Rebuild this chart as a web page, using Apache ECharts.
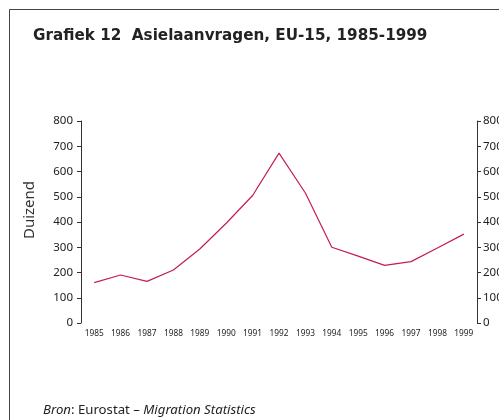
<!DOCTYPE html>
<html><head><meta charset="utf-8">
<script src="https://cdn.jsdelivr.net/npm/echarts@6/dist/echarts.min.js"></script>
<style>html,body{margin:0;padding:0;background:#fff}#c{width:499px;height:420px}</style>
</head><body><div id="c"></div>
<script>
const years = ['1985','1986','1987','1988','1989','1990','1991','1992','1993','1994','1995','1996','1997','1998','1999'];
const applications = [160, 190, 165, 210, 293, 395, 505, 673, 515, 300, 265, 228, 243, 297, 352];
const yTicks = [0, 100, 200, 300, 400, 500, 600, 700, 800];
const titleText = 'Grafiek 12  Asielaanvragen, EU-15, 1985-1999';
const unitLabel = 'Duizend';

const chart = echarts.init(document.getElementById('c'), null, {renderer:'canvas'});
const labelFont = 'Noto Sans';
const axisCommon = {
  type:'value', min: yTicks[0], max: yTicks[yTicks.length-1], interval: 100,
  splitLine:{show:false},
  axisLine:{show:true, lineStyle:{color:'#333', width:1}},
  axisTick:{show:true, length:4, lineStyle:{color:'#333'}},
  axisLabel:{fontFamily:labelFont, fontSize:11.5, color:'#222'}
};
chart.setOption({
  animation:false,
  title:{text:titleText, left:33, top:29, padding:0, textStyle:{fontFamily:'DejaVu Sans', fontWeight:'bold', fontSize:15.2, color:'#222'}},
  grid:{left:81, right:22, top:121, bottom:97, containLabel:false, outerBoundsMode:'none'},
  xAxis:{type:'category', data:years, boundaryGap:true,
    axisLine:{show:false}, axisTick:{show:false},
    axisLabel:{fontFamily:labelFont, fontSize:8.3, color:'#222', margin:7, interval:0}},
  yAxis:[
    Object.assign({}, axisCommon, {position:'left', axisLabel:Object.assign({}, axisCommon.axisLabel, {margin:8})}),
    Object.assign({}, axisCommon, {position:'right', axisLabel:Object.assign({}, axisCommon.axisLabel, {margin:6})})
  ],
  series:[{type:'line', data:applications, yAxisIndex:0, symbol:'none', lineStyle:{color:'#c41e4f', width:1.2}}],
  graphic:[
    {type:'rect', shape:{x:9.5, y:9.5, width:600, height:600}, style:{fill:'none', stroke:'#444', lineWidth:1}, silent:true},
    {type:'text', x:30, y:210, rotation:Math.PI/2, style:{text:unitLabel, fontFamily:labelFont, fontSize:15, fill:'#333', textAlign:'center', textVerticalAlign:'middle'}},
    {type:'text', left:43, top:404, style:{text:'{i|Bron}: Eurostat – {i|Migration Statistics}', fontFamily:labelFont, fontSize:13.2, fill:'#222',
      rich:{i:{fontStyle:'italic', fontFamily:labelFont, fontSize:13.2, fill:'#222'}}}}
  ]
});
</script></body></html>
